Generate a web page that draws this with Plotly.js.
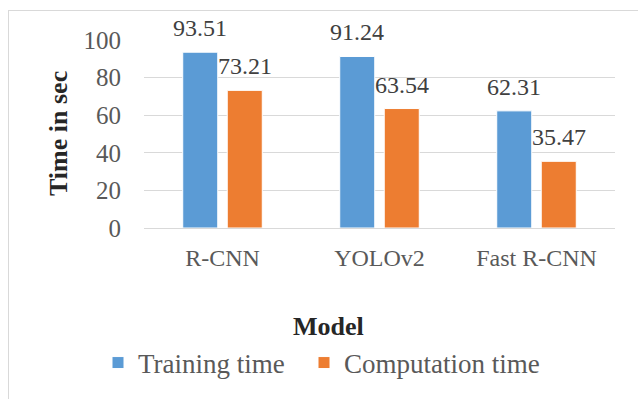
<!DOCTYPE html>
<html>
<head>
<meta charset="utf-8">
<script src="https://cdn.plot.ly/plotly-3.0.1.min.js"></script>
<style>
html,body{margin:0;padding:0;background:#fff;}
#frame{position:absolute;left:8px;top:10px;width:700px;height:500px;border:1px solid #d9d9d9;box-sizing:border-box;}
#chart{position:absolute;left:0;top:0;width:638px;height:399px;}
</style>
</head>
<body>
<div id="frame"></div>
<div id="chart"></div>
<script>
const categories = ["R-CNN", "YOLOv2", "Fast R-CNN"];
const trainingTime = [93.51, 91.24, 62.31];
const computationTime = [73.21, 63.54, 35.47];
const seriesNames = ["Training time", "Computation time"];
const yTicks = [0, 20, 40, 60, 80, 100];

const W = 638, H = 399;
const margin = {l: 144, r: 23, t: 40, b: 171};
const plotW = W - margin.l - margin.r;
const plotH = H - margin.t - margin.b;
const bargap = 0.433, bargroupgap = 0.213;
const slotPx = plotW / categories.length * (1 - bargap) / 2;

const serif = "Liberation Serif";

const traces = [
  {type: "bar", name: seriesNames[0], x: categories, y: trainingTime, legend: "legend",
   marker: {color: "#5b9bd5", line: {color: "#ffffff", width: 1}}, hoverinfo: "none"},
  {type: "bar", name: seriesNames[1], x: categories, y: computationTime, legend: "legend2",
   marker: {color: "#ed7d31", line: {color: "#ffffff", width: 1}}, hoverinfo: "none"}
];

const annotations = [];
[trainingTime, computationTime].forEach((vals, si) => {
  vals.forEach((v, i) => {
    annotations.push({
      x: categories[i], y: v, xref: "x", yref: "y",
      text: v.toFixed(2), showarrow: false,
      xanchor: "center", yanchor: "bottom",
      xshift: (si === 0 ? -1 : 1) * slotPx / 2, yshift: 9,
      font: {family: serif, size: 24, color: "#404040"}
    });
  });
});
annotations.push({
  xref: "paper", yref: "paper", x: (58 - margin.l) / plotW, y: 0.5,
  text: "<b>Time in sec</b>", textangle: -90, showarrow: false,
  xanchor: "center", yanchor: "middle",
  font: {family: serif, size: 26, color: "#262626"}
});
annotations.push({
  xref: "paper", yref: "paper", x: (328.5 - margin.l) / plotW, y: (plotH + margin.t - 326) / plotH,
  text: "<b>Model</b>", showarrow: false,
  xanchor: "center", yanchor: "middle",
  font: {family: serif, size: 26, color: "#262626"}
});

const legendBase = {
  orientation: "h", xanchor: "left",
  y: (plotH + margin.t - 363) / plotH, yanchor: "middle",
  font: {family: serif, size: 27, color: "#595959"},
  itemwidth: 30, bgcolor: "rgba(0,0,0,0)"
};

const layout = {
  width: W, height: H,
  margin: margin,
  paper_bgcolor: "rgba(0,0,0,0)",
  plot_bgcolor: "rgba(0,0,0,0)",
  barmode: "group",
  bargap: bargap,
  bargroupgap: bargroupgap,
  showlegend: true,
  legend: Object.assign({}, legendBase, {x: (98 - margin.l) / plotW}),
  legend2: Object.assign({}, legendBase, {x: (304 - margin.l) / plotW}),
  xaxis: {
    type: "category",
    showgrid: false, zeroline: false,
    showline: true, linecolor: "#d9d9d9", linewidth: 1,
    ticks: "", ticklabelstandoff: 8,
    tickfont: {family: serif, size: 24, color: "#595959"},
    fixedrange: true
  },
  yaxis: {
    range: [0, 100], tickvals: yTicks, ticktext: yTicks.map(String),
    showgrid: true, gridcolor: "#d9d9d9", gridwidth: 1,
    zeroline: false, showline: false,
    ticks: "", ticklabelstandoff: 22,
    tickfont: {family: serif, size: 25, color: "#595959"},
    fixedrange: true
  },
  annotations: annotations,
  font: {family: serif}
};

Plotly.newPlot("chart", traces, layout, {staticPlot: true, displayModeBar: false});
</script>
</body>
</html>
